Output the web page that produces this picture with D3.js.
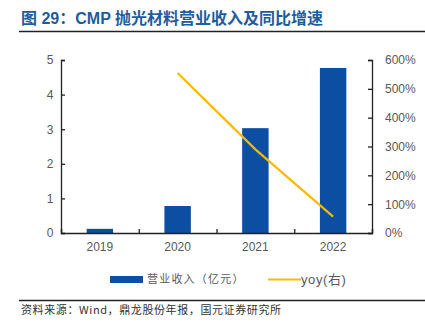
<!DOCTYPE html>
<html>
<head>
<meta charset="utf-8">
<script src="https://cdn.jsdelivr.net/npm/d3@7"></script>
<style>
  body { margin: 0; background: #fff; }
  text { font-family: "Liberation Sans", Arial, "Noto Sans CJK SC", sans-serif; }
</style>
</head>
<body>
<div id="chart"></div>
<script>
const years = ["2019", "2020", "2021", "2022"];
const revenue = [0.12, 0.78, 3.03, 4.77];
const yoy = [null, 5.55, 2.9, 0.57];
const leftTicks = [0, 1, 2, 3, 4, 5];
const rightTicks = [0, 1, 2, 3, 4, 5, 6];

const W = 425, H = 324;
const margin = { top: 60, right: 53, bottom: 91, left: 61 };
const iw = W - margin.left - margin.right;
const ih = H - margin.top - margin.bottom;

const svg = d3.select("#chart").append("svg")
  .attr("width", W).attr("height", H);

// title + rules
svg.append("text")
  .attr("x", 21).attr("y", 24)
  .attr("fill", "#1f5c9e")
  .attr("font-size", 16).attr("font-weight", "bold")
  .style("font-family", "'Liberation Sans', 'Noto Sans CJK SC', sans-serif")
  .text("图 29：CMP 抛光材料营业收入及同比增速");
svg.append("line").attr("x1", 19).attr("x2", W).attr("y1", 31.5).attr("y2", 31.5)
  .attr("stroke", "#222").attr("stroke-width", 1.5);
svg.append("line").attr("x1", 19).attr("x2", W).attr("y1", 300.5).attr("y2", 300.5)
  .attr("stroke", "#222").attr("stroke-width", 1.5);
svg.append("text")
  .attr("x", 21).attr("y", 314)
  .attr("fill", "#333").attr("font-size", 11).attr("letter-spacing", 0.6)
  .style("font-family", "'Noto Sans CJK SC', sans-serif")
  .text("资料来源：Wind，鼎龙股份年报，国元证券研究所");

const g = svg.append("g").attr("transform", `translate(${margin.left},${margin.top})`);

const x = d3.scaleBand().domain(years).range([0, iw]).paddingInner(0.66).paddingOuter(0.33);
const xb = d3.scalePoint().domain(years).range([0, iw]).padding(0.5);
const yL = d3.scaleLinear().domain([0, 5]).range([ih, 0]);
const yR = d3.scaleLinear().domain([0, 6]).range([ih, 0]);

g.selectAll(".bar").data(years).enter().append("rect")
  .attr("class", "bar")
  .attr("x", d => x(d))
  .attr("width", x.bandwidth())
  .attr("y", (d, i) => yL(revenue[i]))
  .attr("height", (d, i) => ih - yL(revenue[i]))
  .attr("fill", "#0b4ea2");

const pts = years.map((d, i) => ({ d, v: yoy[i] })).filter(p => p.v != null);
g.append("path")
  .datum(pts)
  .attr("fill", "none")
  .attr("stroke", "#fbb900")
  .attr("stroke-width", 2.2)
  .attr("d", d3.line().x(p => xb(p.d)).y(p => yR(p.v)));

// axes
const axisColor = "#222";
const left = g.append("g")
  .call(d3.axisLeft(yL).tickValues(leftTicks).tickSize(-4).tickPadding(21).tickFormat(d3.format("d")));
const right = g.append("g").attr("transform", `translate(${iw},0)`)
  .call(d3.axisRight(yR).tickValues(rightTicks).tickSize(-4).tickPadding(13).tickFormat(d => d * 100 + "%"));
const bottom = g.append("g").attr("transform", `translate(0,${ih})`)
  .call(d3.axisBottom(d3.scaleLinear().domain([0, 4]).range([0, iw]))
    .tickValues([0, 1, 2, 3, 4]).tickSize(-4).tickFormat(""));
g.append("g").selectAll("text").data(years).enter().append("text")
  .attr("x", d => xb(d)).attr("y", ih + 18)
  .attr("text-anchor", "middle").attr("fill", "#595959").attr("font-size", 12)
  .text(d => d);

[left, right, bottom].forEach(a => {
  a.select(".domain").attr("stroke", axisColor).attr("stroke-width", 1.3);
  a.selectAll(".tick line").attr("stroke", axisColor).attr("stroke-width", 1.3);
  a.selectAll(".tick text").attr("fill", "#595959").attr("font-size", 12)
    .style("font-family", "'Liberation Sans', Arial, sans-serif");
});
left.selectAll(".tick text").attr("text-anchor", "middle").attr("dx", "10");
right.selectAll(".tick text").attr("text-anchor", "start");

// legend
const lg = svg.append("g").attr("transform", "translate(110,279)");
lg.append("rect").attr("x", 0).attr("y", -3).attr("width", 33).attr("height", 7).attr("fill", "#0b4ea2");
lg.append("text").attr("x", 37).attr("y", 4).attr("font-size", 11).attr("letter-spacing", 1.2)
  .attr("fill", "#595959")
  .style("font-family", "'Noto Sans CJK SC', sans-serif")
  .text("营业收入（亿元）");
lg.append("line").attr("x1", 158).attr("x2", 191).attr("y1", 0.5).attr("y2", 0.5)
  .attr("stroke", "#fbb900").attr("stroke-width", 2.2);
lg.append("text").attr("x", 191).attr("y", 5).attr("font-size", 13).attr("letter-spacing", 0.6)
  .attr("fill", "#595959")
  .style("font-family", "'Liberation Sans', 'Noto Sans CJK SC', sans-serif")
  .text("yoy(右)");
</script>
</body>
</html>
